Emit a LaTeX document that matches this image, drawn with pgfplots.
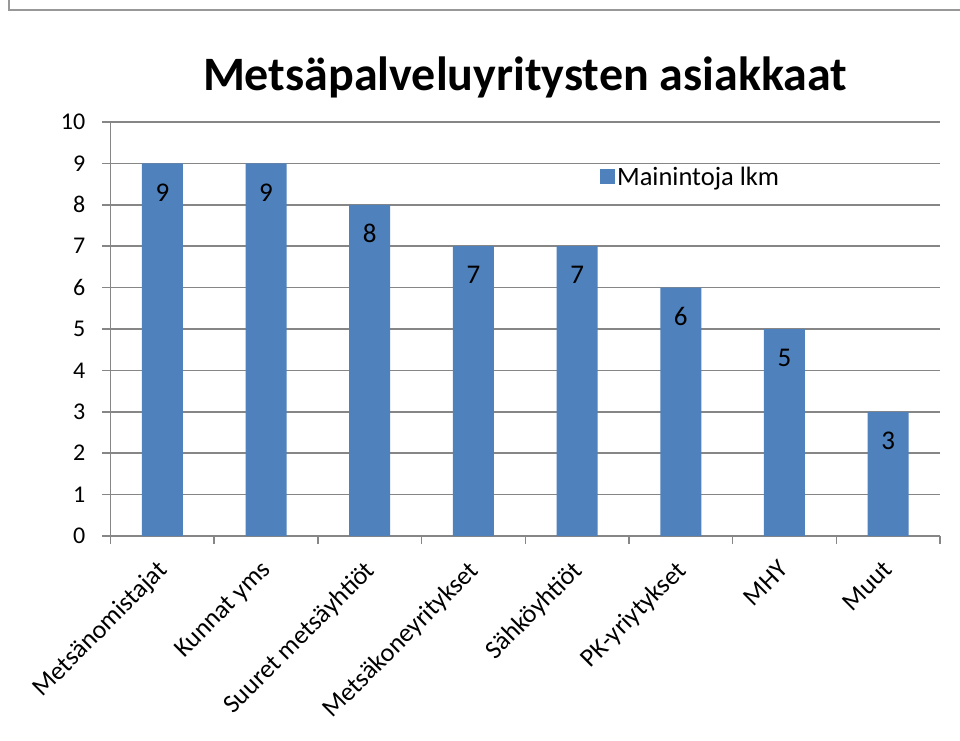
\documentclass[border=0pt]{standalone}
\usepackage{fontspec}
\setmainfont{Carlito}
\usepackage{pgfplots}
\pgfplotsset{compat=1.18}
\definecolor{barblue}{HTML}{4F81BD}
\definecolor{gridgray}{HTML}{868686}
\begin{document}
\begin{tikzpicture}[x=1pt,y=1pt]
\useasboundingbox (0,0) rectangle (960,740);
\fill[white] (0,0) rectangle (960,740);
\draw[gridgray!85, line width=1.5pt] (9,740) -- (9,730) -- (960,730);
\node[font=\fontsize{48}{52}\selectfont\bfseries, anchor=base] at (525,649) {Metsäpalveluyritysten asiakkaat};
\begin{axis}[
  at={(110.5pt,204pt)}, anchor=south west,
  scale only axis, width=829.5pt, height=414pt,
  xmin=0.5, xmax=8.5, ymin=0, ymax=10,
  ytick={0,...,10}, xtick={1,...,8},
  xticklabels={Metsänomistajat, Kunnat yms, Suuret metsäyhtiöt, Metsäkoneyritykset, Sähköyhtiöt, PK-yriytykset, MHY, Muut},
  minor xtick={0.5,1.5,...,8.5},
  major x tick style={draw=none},
  tick align=outside,
  major tick length=8pt, minor tick length=8pt,
  tick style={gridgray, line width=1.5pt},
  axis x line*=bottom, axis y line*=left,
  axis line style={gridgray, line width=1.5pt, -},
  ymajorgrids, grid style={gridgray, line width=1.5pt},
  /pgf/number format/assume math mode=true,
  ticklabel style={font=\fontsize{24}{28}\selectfont},
  yticklabel style={anchor=east, inner sep=0pt, xshift=-17pt},
  xticklabel style={rotate=45, anchor=north east, inner sep=0pt, xshift=-15pt, yshift=-6pt, font=\fontsize{26}{28}\selectfont},
  ybar, bar width=41pt,
  nodes near coords,
  every node near coord/.append style={anchor=center, yshift=-29pt, font=\fontsize{27}{30}\selectfont, text=black},
  legend style={draw=none, fill=none, at={(0.59,0.896)}, anchor=north west, inner sep=0pt, font=\fontsize{26.5}{30}\selectfont},
  legend image code/.code={\fill[#1] (-6pt,-7pt) rectangle (9pt,8pt);},
  legend cell align=left,
]
\addplot[fill=barblue, draw=none] coordinates {(1,9) (2,9) (3,8) (4,7) (5,7) (6,6) (7,5) (8,3)};
\addlegendentry{Mainintoja lkm}
\end{axis}
\end{tikzpicture}
\end{document}
